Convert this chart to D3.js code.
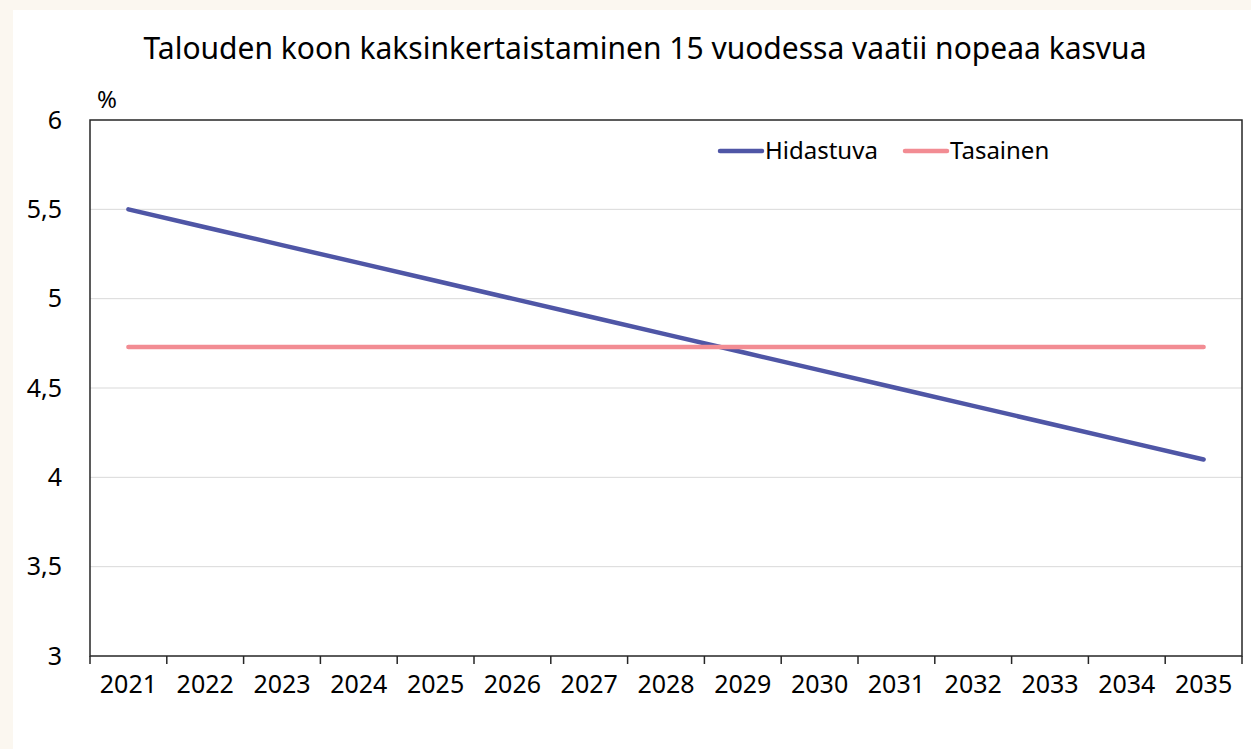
<!DOCTYPE html>
<html lang="fi">
<head>
<meta charset="UTF-8">
<title>Talouden koon kaksinkertaistaminen</title>
<style>
  html, body { margin: 0; padding: 0; background: #fbf7f0; }
  svg { display: block; font-family: "Noto Sans", "Open Sans", sans-serif; }
  .grid line { stroke: #d9d9d9; stroke-width: 1px; }
  .axis path, .axis line { stroke: #262626; }
  .axis text { font-family: "Noto Sans", sans-serif; font-size: 25px; fill: #000; }
  .title { font-size: 30px; fill: #000; }
  .legend text { font-size: 24px; fill: #000; }
</style>
</head>
<body>
<div id="chart"></div>
<script src="https://cdn.jsdelivr.net/npm/d3@7/dist/d3.min.js"></script>
<script>
  var years = ['2021', '2022', '2023', '2024', '2025', '2026', '2027', '2028',
    '2029', '2030', '2031', '2032', '2033', '2034', '2035'];
  var hidastuva = [5.5, 5.4, 5.3, 5.2, 5.1, 5.0, 4.9, 4.8, 4.7, 4.6, 4.5, 4.4, 4.3, 4.2, 4.1];
  var tasainen = [4.73, 4.73, 4.73, 4.73, 4.73, 4.73, 4.73, 4.73, 4.73, 4.73, 4.73, 4.73, 4.73, 4.73, 4.73];
  var yTicks = [3, 3.5, 4, 4.5, 5, 5.5, 6];
  var seriesNames = ['Hidastuva', 'Tasainen'];
  var seriesColors = ['#4f56a6', '#f28c93'];

  var width = 1251,
    height = 749,
    plot = {left: 90, top: 120, right: 1242, bottom: 656};

  var svg = d3.select('#chart').append('svg')
    .attr('width', width)
    .attr('height', height);

  // white panel
  svg.append('rect')
    .attr('x', 13).attr('y', 10)
    .attr('width', width - 13).attr('height', height - 10)
    .attr('fill', '#fff');

  var x = d3.scaleBand().domain(years).range([plot.left, plot.right]);
  var y = d3.scaleLinear().domain([3, 6]).range([plot.bottom, plot.top]);

  svg.append('g')
    .attr('class', 'grid')
    .selectAll('line')
    .data(yTicks.slice(1, -1))
    .enter().append('line')
    .attr('x1', plot.left).attr('x2', plot.right)
    .attr('y1', function(d) { return y(d); })
    .attr('y2', function(d) { return y(d); });

  // border of the plot area
  svg.append('rect')
    .attr('x', plot.left).attr('y', plot.top)
    .attr('width', plot.right - plot.left)
    .attr('height', plot.bottom - plot.top)
    .attr('fill', 'none')
    .attr('stroke', '#262626')
    .attr('stroke-width', 1.5);

  var fmt = function(d) { return String(d).replace('.', ','); };

  svg.append('g')
    .attr('class', 'axis')
    .attr('transform', 'translate(' + plot.left + ',0)')
    .call(d3.axisLeft(y).tickValues(yTicks).tickFormat(fmt).tickSize(0).tickPadding(28))
    .call(function(g) { g.select('.domain').remove(); });

  // x axis: ticks on band edges, labels on band centres
  var xAxis = svg.append('g')
    .attr('class', 'axis')
    .attr('transform', 'translate(0,' + plot.bottom + ')');

  xAxis.selectAll('line')
    .data(years.concat(['end']))
    .enter().append('line')
    .attr('x1', function(d, i) { return plot.left + i * x.step(); })
    .attr('x2', function(d, i) { return plot.left + i * x.step(); })
    .attr('y1', 0).attr('y2', 8)
    .attr('stroke-width', 1.5);

  xAxis.selectAll('text')
    .data(years)
    .enter().append('text')
    .attr('x', function(d) { return x(d) + x.bandwidth() / 2; })
    .attr('y', 37)
    .attr('text-anchor', 'middle')
    .text(function(d) { return d; });

  svg.append('text')
    .attr('x', 97).attr('y', 108)
    .style('font-size', '24px')
    .text('%');

  svg.append('text')
    .attr('class', 'title')
    .attr('x', 645).attr('y', 59)
    .attr('text-anchor', 'middle')
    .text('Talouden koon kaksinkertaistaminen 15 vuodessa vaatii nopeaa kasvua');

  var line = d3.line()
    .x(function(d, i) { return x(years[i]) + x.bandwidth() / 2; })
    .y(function(d) { return y(d); });

  [hidastuva, tasainen].forEach(function(values, k) {
    svg.append('path')
      .datum(values)
      .attr('d', line)
      .attr('fill', 'none')
      .attr('stroke', seriesColors[k])
      .attr('stroke-width', 4.5)
      .attr('stroke-linecap', 'round');
  });

  var legend = svg.append('g').attr('class', 'legend');
  var legendX = [720, 905];
  seriesNames.forEach(function(name, k) {
    legend.append('line')
      .attr('x1', legendX[k]).attr('x2', legendX[k] + 42)
      .attr('y1', 151).attr('y2', 151)
      .attr('stroke', seriesColors[k])
      .attr('stroke-width', 4.5)
      .attr('stroke-linecap', 'round');
    legend.append('text')
      .attr('x', legendX[k] + 45).attr('y', 159)
      .text(name);
  });
</script>
</body>
</html>
